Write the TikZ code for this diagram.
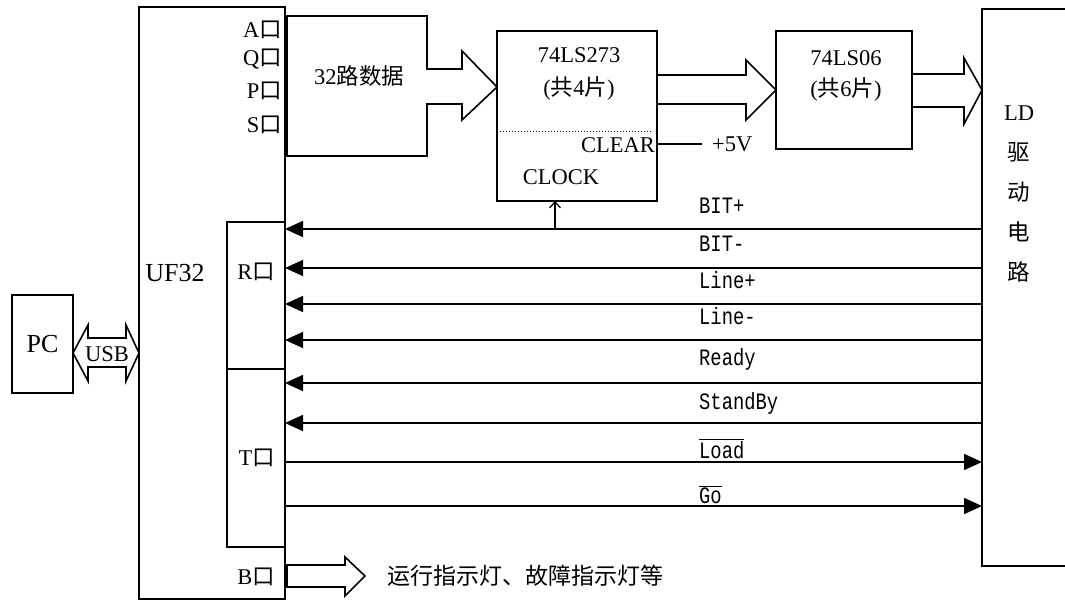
\documentclass[tikz,border=0pt]{standalone}
\usepackage{fontspec}
\setmainfont{Liberation Serif}
\newfontfamily\cjk{Noto Sans CJK SC}
\newfontfamily\sigfont[FakeStretch=0.8]{Liberation Mono}
\usetikzlibrary{positioning, arrows.meta}
\newcommand{\porta}[1]{#1{\cjk 口}}

\begin{document}
\begin{tikzpicture}[
        x=1pt, y=-1pt,
        % punte piene per i segnali
        >={Triangle[length=18pt, width=16pt]},
        font=\fontsize{22.5}{26}\selectfont,
        % blocchi
        box/.style={draw, rectangle, line width=1.6pt, inner sep=0pt, outer sep=0pt},
        lbl/.style={inner sep=1pt},
        siglbl/.style={font=\sigfont\fontsize{23.5}{26}\selectfont, anchor=base west, inner sep=0pt},
        sigline/.style={line width=1.6pt},
        fat/.style={draw, line width=1.6pt, fill=white}
    ]
        \useasboundingbox (0,0) rectangle (1065,601);

        % Blocchi
        \node[box, minimum width=61, minimum height=98, font=\fontsize{26}{28}\selectfont] (pc) at (42.5,344) {PC};
        \node[box, minimum width=146, minimum height=592] (uf) at (212,303) {};
        \node[box, minimum width=58, minimum height=147, anchor=north east] (rport) at (uf.east |- 0,222) {};
        \node[box, minimum width=58, minimum height=178, below=0pt of rport] (tport) {};
        \node[box, minimum width=160, minimum height=170] (ls273) at (577,116) {};
        \node[box, minimum width=136, minimum height=118] (ls06) at (844,90) {};
        \node[box, minimum width=98, minimum height=557, anchor=north west] (ld) at (982,9) {};

        % Testi dei blocchi
        \node[font=\fontsize{26}{28}\selectfont] (uflbl) at (175,273) {UF32};
        \foreach \p/\y in {A/30, Q/59, P/91, S/125}
            \node[lbl, anchor=east] (port\p) at (283,\y) {\porta{\p}};
        \node[lbl, anchor=east] (rlbl) at (276,272) {\porta{R}};
        \node[lbl, anchor=east] (tlbl) at (276,458) {\porta{T}};
        \node[lbl, anchor=east] (blbl) at (276,577) {\porta{B}};
        \node[align=center, font=\fontsize{22.5}{33}\selectfont] (ls273lbl) at (579,74) {74LS273\\({\cjk 共}4{\cjk 片})};
        \node[align=center, font=\fontsize{22.5}{31}\selectfont] (ls06lbl) at (846,76) {74LS06\\({\cjk 共}6{\cjk 片})};
        \node[align=center, font=\fontsize{22.5}{40}\selectfont] (ldlbl) at (1019,194) {LD\\{\cjk 驱}\\{\cjk 动}\\{\cjk 电}\\{\cjk 路}};

        % 74LS273: CLEAR e CLOCK
        \draw[dotted, line width=1pt] (ls273.west |- 0,132) -- (653,132);
        \node[lbl, anchor=east] (clear) at (656,145) {CLEAR};
        \node (clock) at (561,177) {CLOCK};
        \node[lbl, anchor=west] (vcc) at (711,144) {+5V};
        \draw[line width=1.2pt, shorten >=9pt] (ls273.east |- vcc) -- (vcc.west);

        % Frecce larghe
        \draw[fat] (287,16) -- (427,16) -- (427,69) -- (462,69) -- (462,51) -- (ls273.west |- 0,87)
            -- (462,120) -- (462,104) -- (427,104) -- (427,156) -- (287,156) -- cycle;
        \node (dati) at (359,76) {32{\cjk 路数据}};
        \draw[fat] (ls273.east |- 0,75) -- (746,75) -- (746,60) -- (ls06.west |- 0,90)
            -- (746,120) -- (746,104) -- (ls273.east |- 0,104) -- cycle;
        \draw[fat] (ls06.east |- 0,74) -- (964,74) -- (964,58) -- (ld.west |- 0,90)
            -- (964,124) -- (964,107) -- (ls06.east |- 0,107) -- cycle;
        \draw[fat] (pc.east |- 0,353) -- (88,325) -- (88,338) -- (126,338) -- (126,325) -- (uf.west |- 0,353)
            -- (126,381) -- (126,367) -- (88,367) -- (88,381) -- cycle;
        \node (usb) at (107,354) {USB};
        \draw[fat] (287,565) -- (345,565) -- (345,557) -- (365,576) -- (345,596) -- (345,587) -- (287,587) -- cycle;
        \node[lbl, anchor=west, font=\fontsize{23}{26}\selectfont] (led) at (386,576) {\cjk 运行指示灯、故障指示灯等};

        % Segnali dal driver LD
        \foreach \y/\b/\s [count=\i] in {229/214/BIT+, 268/252/BIT-, 304/289/Line+, 340/325/Line-, 383/366/Ready, 423/409/StandBy} {
            \draw[sigline, ->] (ld.west |- 0,\y) -- (uf.east |- 0,\y);
            \node[siglbl] (sig\i) at (699,\b) {\s};
        }
        % Segnali verso il driver
        \draw[sigline, ->] (tport.east |- 0,462) -- (ld.west |- 0,462);
        \node[siglbl] (load) at (699,458) {$\overline{\hbox{Load}}$};
        \draw[sigline, ->] (tport.east |- 0,506) -- (ld.west |- 0,506);
        \node[siglbl] (go) at (699,503) {$\overline{\hbox{Go}}$};

        % CLOCK preso da BIT+
        \coordinate (clk) at (555,229);
        \draw[line width=1.2pt, -{Straight Barb[length=6pt, width=11pt]}] (clk) -- (clk |- ls273.south);

    \end{tikzpicture}
\end{document}
